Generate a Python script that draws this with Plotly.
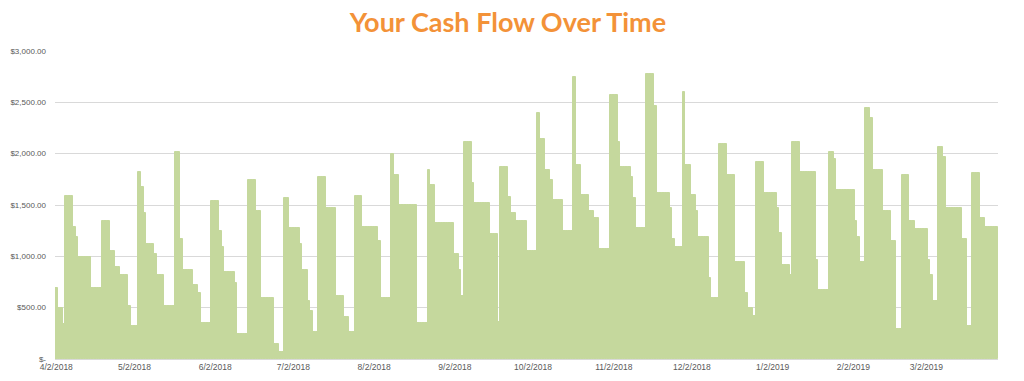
import pandas as pd
import plotly.graph_objects as go

start_date = "2018-04-02"

# Daily cash flow values (USD), one per day starting 4/2/2018
cash_flow = [
    690, 495, 495, 345, 1590, 1590, 1590, 1290, 1190,
    995, 995, 995, 995, 995, 690, 690, 690, 690,
    1345, 1345, 1345, 1050, 1050, 895, 895, 820, 820, 820,
    520, 320, 320, 320, 1820, 1675, 1420, 1120, 1120, 1120,
    1020, 818, 818, 818, 520, 520, 520, 520, 2013, 2013,
    1166, 867, 867, 867, 867, 718, 718, 640, 347, 347, 347, 347,
    1542, 1542, 1542, 1244, 1088, 844, 844, 844, 844, 744,
    240, 240, 240, 240, 1744, 1744, 1744, 1445, 1445,
    591, 591, 591, 591, 591, 143, 143, 68, 68, 1572, 1572,
    1276, 1276, 1276, 1276, 1117, 867, 867, 565, 468, 266, 266,
    1773, 1773, 1773, 1468, 1468, 1468, 1468, 617, 617, 617,
    412, 412, 260, 260, 1591, 1591, 1591,
    1289, 1289, 1289, 1289, 1289, 1289, 1146, 591, 591, 591, 591,
    1994, 1789, 1789, 1497, 1497, 1497, 1497, 1497, 1497, 1497,
    347, 347, 347, 347, 1841, 1692, 1692,
    1322, 1322, 1322, 1322, 1322, 1322, 1322, 1023, 1023, 867, 617,
    2117, 2117, 2117, 1718, 1516, 1516, 1516, 1516, 1516, 1516,
    1218, 1218, 1218, 364, 1870, 1870, 1870, 1575, 1419, 1419,
    1344, 1344, 1344, 1344, 1049, 1049, 1049, 1049,
    2400, 2146, 2146, 1841, 1841, 1744, 1545, 1545, 1545, 1545,
    1247, 1247, 1247, 1247, 2744, 1893, 1893, 1594, 1594, 1594,
    1445, 1445, 1370, 1370, 1068, 1068, 1068, 1068,
    2572, 2572, 2572, 2117, 1874, 1874, 1874, 1874, 1773, 1572,
    1273, 1273, 1273, 1273, 2773, 2773, 2773, 2467,
    1620, 1620, 1620, 1620, 1620, 1468, 1169, 1094, 1094, 1094,
    2597, 1893, 1893, 1594, 1594, 1445, 1192, 1192, 1192, 1192,
    792, 591, 591, 591, 2091, 2091, 2091, 1792, 1792, 1792,
    948, 948, 948, 948, 646, 500, 500, 419, 1916, 1916, 1916,
    1617, 1617, 1617, 1617, 1617, 1468, 1224, 916, 916, 916, 818,
    2117, 2117, 2117, 1818, 1818, 1818, 1818, 1818, 1818, 964,
    669, 669, 669, 669, 2016, 2016, 1945,
    1643, 1643, 1643, 1643, 1643, 1643, 1643, 1344, 1192, 948, 948,
    2442, 2442, 2344, 1841, 1841, 1841, 1841, 1445, 1445, 1445,
    1146, 1146, 295, 295, 1789, 1789, 1789, 1344, 1344,
    1270, 1270, 1270, 1270, 1270, 964, 818, 568, 568, 2068, 2068, 1971,
    1468, 1468, 1468, 1468, 1468, 1468, 1166, 1166, 321, 321,
    1815, 1815, 1815, 1370, 1370, 1289, 1289, 1289, 1289, 1289,
]

tick_dates = ["2018-04-02", "2018-05-02", "2018-06-02", "2018-07-02", "2018-08-02",
              "2018-09-02", "2018-10-02", "2018-11-02", "2018-12-02", "2019-01-02",
              "2019-02-02", "2019-03-02"]
tick_labels = ["4/2/2018", "5/2/2018", "6/2/2018", "7/2/2018", "8/2/2018", "9/2/2018",
               "10/2/2018", "11/2/2018", "12/2/2018", "1/2/2019", "2/2/2019", "3/2/2019"]

y_tick_values = [0, 500, 1000, 1500, 2000, 2500, 3000]
y_tick_labels = ["$-", "$500.00", "$1,000.00", "$1,500.00", "$2,000.00", "$2,500.00", "$3,000.00"]

dates = pd.date_range(start_date, periods=len(cash_flow), freq="D")

fig = go.Figure()
fig.add_trace(go.Bar(
    x=dates, y=cash_flow,
    marker=dict(color="#C5D89D", line=dict(width=1, color="#C5D89D")),
    hoverinfo="x+y",
))

x_start = dates[0] - pd.Timedelta(hours=12)
x_end = dates[-1] + pd.Timedelta(hours=12)

fig.update_layout(
    template="none",
    width=1024, height=381,
    margin=dict(l=55, r=26, t=51, b=22, pad=0),
    paper_bgcolor="white", plot_bgcolor="white",
    bargap=0,
    showlegend=False,
    title=dict(text="<b>Your Cash Flow Over Time</b>", x=0.496, xanchor="center",
               y=0.94, yanchor="middle",
               font=dict(family="Lato", size=27, color="#F39238")),
    font=dict(family="Liberation Sans", size=8, color="#595959"),
)
fig.update_xaxes(
    type="date", range=[x_start, x_end], automargin=False,
    tickvals=tick_dates, ticktext=tick_labels,
    showgrid=False, showline=True, linecolor="#D9D9D9", linewidth=1,
    ticks="", tickfont=dict(size=8.5, color="#595959"),
)
fig.update_yaxes(
    range=[0, 3000], tickvals=y_tick_values, ticktext=y_tick_labels, automargin=False,
    showgrid=True, gridcolor="#D9D9D9", gridwidth=1,
    zeroline=False, showline=False, ticks="", ticklabelstandoff=8,
    tickfont=dict(size=8, color="#595959"),
)

fig.write_html("out.html", config={"displayModeBar": False},
               post_script="document.body.style.margin='0';")
